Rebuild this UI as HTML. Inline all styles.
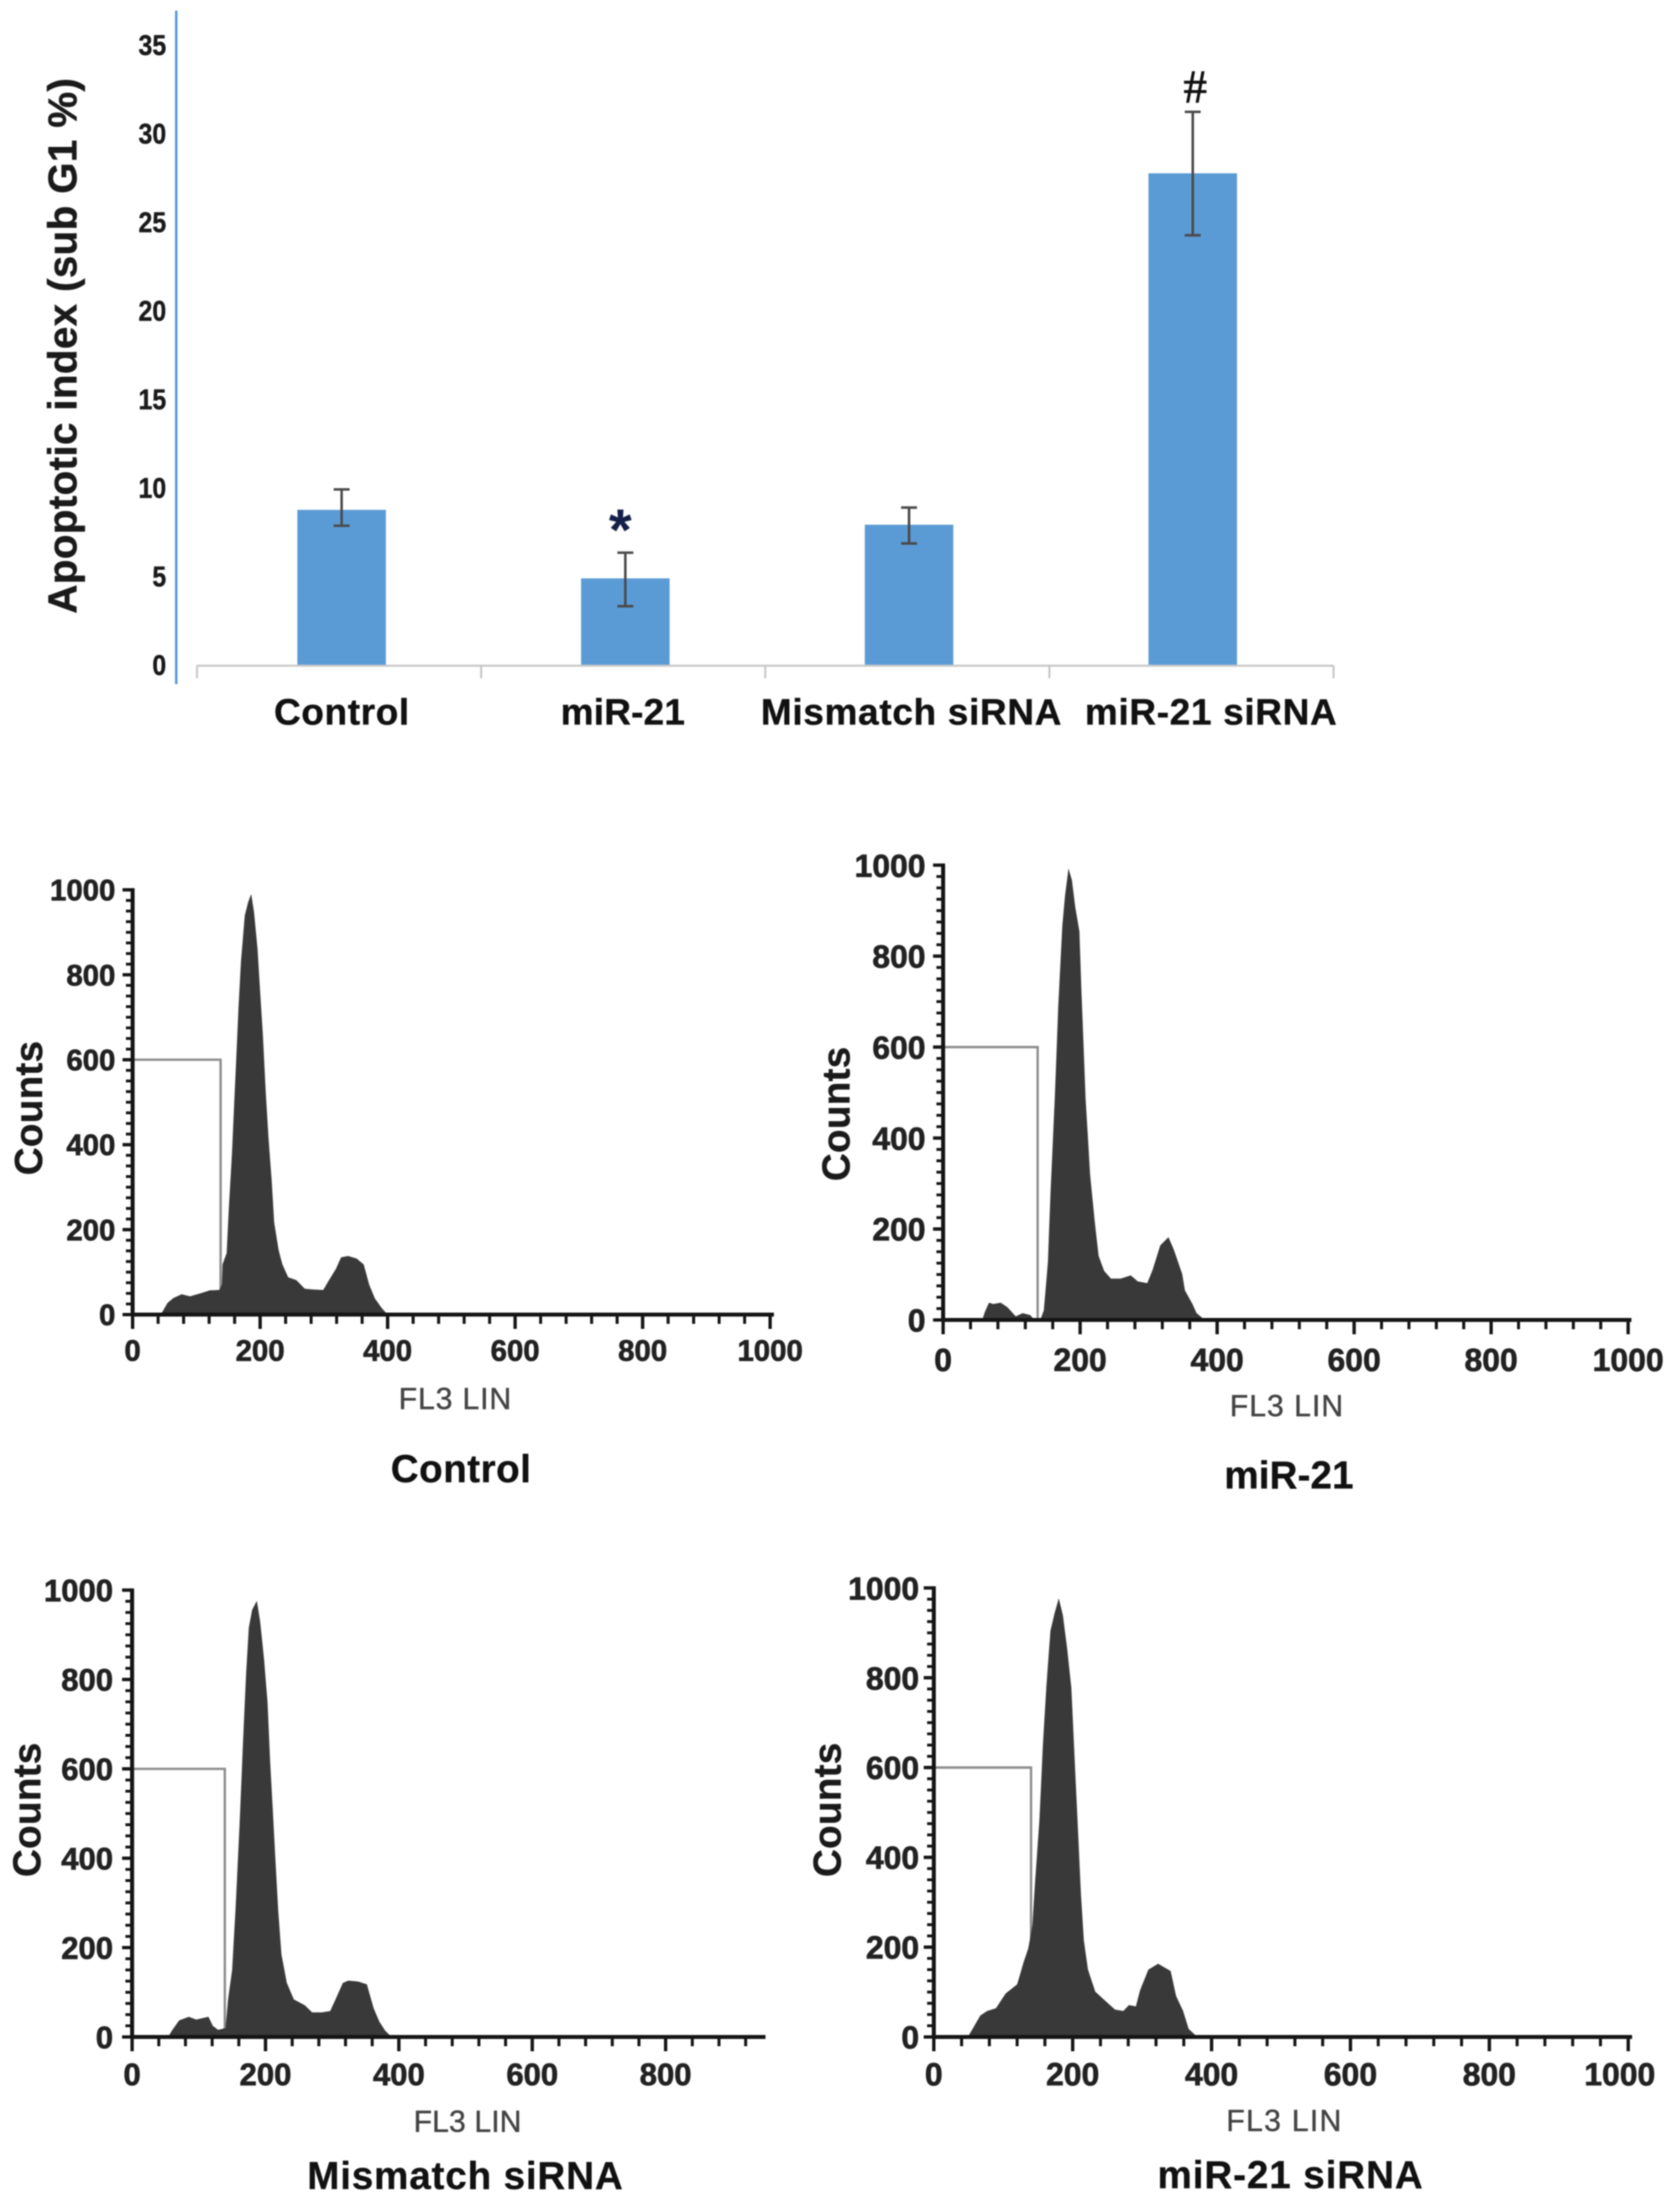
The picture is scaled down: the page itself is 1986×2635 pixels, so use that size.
<!DOCTYPE html>
<html lang="en">
<head>
<meta charset="utf-8">
<title>Apoptotic index and cell-cycle histograms</title>
<style>
html,body{margin:0;padding:0;background:#fff;}
#figure{display:block;width:1986px;height:2635px;filter:blur(.7px);font-family:"Liberation Sans",Arial,sans-serif;}
</style>
</head>
<body>
<svg id="figure" xmlns="http://www.w3.org/2000/svg" width="1986" height="2635" viewBox="0 0 1986 2635">
<rect x="0" y="0" width="1986" height="2635" fill="#ffffff"/>
</svg>
<script>
// ---- Bar chart data ----
const categories = ["Control", "miR-21", "Mismatch siRNA", "miR-21 siRNA"];
const barValues = [8.8, 4.93, 7.96, 27.8];
const errorHigh = [9.95, 6.38, 8.93, 31.27];
const errorLow = [7.9, 3.36, 6.9, 24.3];
const barTickLabels = [0, 5, 10, 15, 20, 25, 30, 35];
const barMarkers = ["", "*", "", "#"];

// ---- Histogram data (FL3 LIN channel, counts) ----
const xTickLabels = [0, 200, 400, 600, 800, 1000];
const countTickLabels = [0, 200, 400, 600, 800, 1000];
const gateCount = 600;

const controlChannels = [44,55,64,77,90,108,121,136,140,141,147.5,151,156,161,166,170,176,181,186,190.5,196,199,204.5,209,213,218,222,229,235,244,257,270,283.5,299,308,319,327,338,351.5,362.5,371,380,391,400];
const controlCounts = [0,28,39,48,43,51,57,58,71,118,145,252,385,552,719,833,940,970,990,947,860,786,653,519,419,319,218,152,118,88,81,61,59,58,81,108,135,138,132,118,71,38,15,0];
const controlGateChannel = 138;

const mir21Channels = [57,61,67,73,84,94,106,116,127,133,142,147,153,157,163,168,174,178,183,188,193,199,202,208,214.5,221,227,235,245,259,274,284,298,306,317,329,337,349,353,364,370,382];
const mir21Counts = [0,18,38,35,38,28,8,15,11,1,1,21,128,288,487,687,867,933,993,967,907,854,720,487,321,221,141,108,91,91,98,85,81,111,164,182,154,101,65,35,15,0];
const mir21GateChannel = 138;

const mismatchChannels = [54,60,70.5,85,96,114.5,121,129,140,144,150,155,161,166,171,175,180,187,192,198,203,207,213,219,224,232,242.5,259,270,284.5,297,305,316,324,339,352,362,370.5,379,389];
const mismatchCounts = [0,15,37,45,39,45,25,16,20,85,151,284,470,650,816,916,956,976,930,843,750,617,450,284,184,121,84,71,55,55,58,84,121,126,124,118,65,35,15,0];
const mismatchGateChannel = 139;

const sirnaChannels = [49,57,67,77,89.5,103.5,120,130,136,142,146,152,157,162,168,174,180,186,192,198,202,207,212,216,222,232.5,246.5,261,273,281,291,297,309,323,341,349,359,367,379.5];
const sirnaCounts = [0,21,48,58,64,97,117,170,197,249,349,481,647,779,905,944,977,938,865,779,647,481,316,216,150,101,81,61,58,71,68,104,150,163,147,91,58,18,0];
const sirnaGateChannel = 140;

// ---- Helpers ----
const NS = "http://www.w3.org/2000/svg";
const figure = document.getElementById("figure");
function shape(tag, attrs, parent) {
  const node = document.createElementNS(NS, tag);
  for (const key in attrs) node.setAttribute(key, attrs[key]);
  (parent || figure).appendChild(node);
  return node;
}
function label(content, attrs, parent) {
  const node = shape("text", attrs, parent);
  node.textContent = content;
  return node;
}

// ---- Bar chart ----
const barBaseY = 793;
const barUnit = 21.1;
const barY = v => barBaseY - barUnit * v;
const barX = i => 407 + 338 * i;
const bandEdge = i => 234.7 + 338.5 * i;
const barWidth = 105.5;

const barGroup = shape("g", {});



const blueAxis = shape("line", {x1:210, y1:12.6, x2:210, y2:815, stroke:"#5b9bd5", "stroke-width":3}, barGroup);



barTickLabels.forEach(v => {
  const t = label(String(v), {x:198, y:barY(v)+11, "text-anchor":"end", "font-size":34, "font-weight":"bold", fill:"#1a1a1a", stroke:"#1a1a1a", "stroke-width":0.5, textLength:String(v).length*16.5, lengthAdjust:"spacingAndGlyphs"}, barGroup);
  
  
});

const yTitle = label("Apoptotic index (sub G1 %)", {transform:"translate(91,412) rotate(-90)", "text-anchor":"middle", "font-size":48, "font-weight":"bold", fill:"#1a1a1a", stroke:"#1a1a1a", "stroke-width":0.6, textLength:638, lengthAdjust:"spacing"}, barGroup);



categories.forEach((name, i) => {
  const bar = shape("rect", {x:barX(i)-barWidth/2, y:barY(barValues[i]), width:barWidth, height:barUnit*barValues[i], fill:"#5b9bd5"}, barGroup);
  
  

  const stem = shape("line", {x1:barX(i), x2:barX(i), y1:barY(errorHigh[i]), y2:barY(errorLow[i]), stroke:"#4a4a4a", "stroke-width":3}, barGroup);
  
  

  const capTop = shape("line", {x1:barX(i)-9.5, x2:barX(i)+9.5, y1:barY(errorHigh[i]), y2:barY(errorHigh[i]), stroke:"#4a4a4a", "stroke-width":3}, barGroup);
  
  

  const capLow = shape("line", {x1:barX(i)-9.5, x2:barX(i)+9.5, y1:barY(errorLow[i]), y2:barY(errorLow[i]), stroke:"#4a4a4a", "stroke-width":3}, barGroup);
  
  
});

const xAxisLine = shape("line", {x1:bandEdge(0), x2:bandEdge(4), y1:barBaseY, y2:barBaseY, stroke:"#c8c8c8", "stroke-width":2.5}, barGroup);



[0,1,2,3,4].forEach(i => {
  const tick = shape("line", {x1:bandEdge(i), x2:bandEdge(i), y1:barBaseY, y2:barBaseY+15, stroke:"#c8c8c8", "stroke-width":2.5}, barGroup);
  
  
});

const categoryLayout = [{cx:407, w:161}, {cx:742, w:148}, {cx:1085.5, w:358}, {cx:1442.5, w:300}];
categories.forEach((name, i) => {
  const t = label(name, {x:categoryLayout[i].cx, y:863, "text-anchor":"middle", "font-size":44, "font-weight":"bold", fill:"#111", stroke:"#111", "stroke-width":0.5, textLength:categoryLayout[i].w, lengthAdjust:"spacing"}, barGroup);
  
  
});

const star = label(barMarkers[1], {x:739, y:655, "text-anchor":"middle", "font-size":70, "font-weight":"bold", fill:"#15204a"}, barGroup);



const hash = label(barMarkers[3], {x:1424, y:122, "text-anchor":"middle", "font-size":56, fill:"#111", stroke:"#111", "stroke-width":0.8, style:'font-family:"Liberation Serif",serif'}, barGroup);



// ---- Histogram panels ----
function drawHistogram(name, channels, counts, gateChannel, layout) {
  const x = c => layout.left + (layout.right - layout.left) * c / 1000;
  const y = c => layout.y0 - (layout.y0 - layout.y1000) * c / 1000;

  const panel = shape("g", {});
  
  

  const gate = shape("polyline", {points:`${x(0)},${y(gateCount)} ${x(gateChannel)},${y(gateCount)} ${x(gateChannel)},${y(0)}`, fill:"none", stroke:"#8c8c8c", "stroke-width":2.8}, panel);
  
  

  const pts = channels.map((c, i) => `${x(c)},${y(counts[i])}`);
  const area = shape("polygon", {points:`${x(channels[0])},${y(0)} ${pts.join(" ")} ${x(channels[channels.length-1])},${y(0)}`, fill:"#393939"}, panel);
  
  

  const yAxis = shape("line", {x1:x(0), x2:x(0), y1:y(1000)-2, y2:y(0)+2, stroke:"#151515", "stroke-width":4.8}, panel);
  
  

  const xAxis = shape("line", {x1:x(0), x2:layout.axisEnd, y1:y(0), y2:y(0), stroke:"#151515", "stroke-width":4.8}, panel);
  
  

  for (let c = 0; c <= 1000; c += 25) {
    const major = c % 200 === 0;
    const yTick = shape("line", {x1:x(0)-(major?12:8), x2:x(0), y1:y(c), y2:y(c), stroke:"#151515", "stroke-width":major?4:3.4}, panel);
    
    
  }
  for (let c = 0; c <= 1000; c += 40) {
    const major = c % 200 === 0;
    if (x(c) <= layout.axisEnd) {
      const xTick = shape("line", {x1:x(c), x2:x(c), y1:y(0), y2:y(0)+(major?17:11), stroke:"#151515", "stroke-width":major?4:3.6}, panel);
      
      
    }
  }

  xTickLabels.forEach(v => {
    if (x(v) > layout.axisEnd) return;
    const shift = v === 1000 ? (layout.lastLabelShift || 0) : 0;
    const t = label(String(v), {x:x(v)+shift, y:layout.xLabelBase, "text-anchor":"middle", "font-size":layout.tickFont, "font-weight":"bold", fill:"#222", stroke:"#222", "stroke-width":0.8}, panel);
    
    
  });

  countTickLabels.forEach(v => {
    const t = label(String(v), {x:layout.yLabelRight, y:y(v)+layout.tickFont*0.36, "text-anchor":"end", "font-size":layout.tickFont, "font-weight":"bold", fill:"#222", stroke:"#222", "stroke-width":0.8}, panel);
    
    
  });

  const countsTitle = label("Counts", {transform:`translate(${layout.countsBase},${layout.countsMid}) rotate(-90)`, "text-anchor":"middle", "font-size":46, "font-weight":"bold", fill:"#1a1a1a", stroke:"#1a1a1a", "stroke-width":0.5, textLength:160, lengthAdjust:"spacing"}, panel);
  
  

  const flTitle = label("FL3 LIN", {x:layout.flX, y:layout.flBase, "text-anchor":"middle", "font-size":36, fill:"#444", stroke:"#444", "stroke-width":0.5, textLength:layout.flWidth, lengthAdjust:"spacing"}, panel);
  
  

  const caption = label(layout.caption, {x:layout.capX, y:layout.capBase, "text-anchor":"middle", "font-size":46, "font-weight":"bold", fill:"#111", stroke:"#111", "stroke-width":0.4, textLength:layout.capWidth, lengthAdjust:"spacing"}, panel);
  
  
}

drawHistogram("control", controlChannels, controlCounts, controlGateChannel, {
  left:158, right:917.5, axisEnd:922, y0:1566, y1000:1060, tickFont:35, xLabelBase:1621, yLabelRight:137.5,
  countsBase:50, countsMid:1320, flX:542, flBase:1678.6, flWidth:134,
  caption:"Control", capX:549, capBase:1765.5, capWidth:167
});
drawHistogram("mir-21", mir21Channels, mir21Counts, mir21GateChannel, {
  left:1123.6, right:1939.7, axisEnd:1943.6, y0:1572.4, y1000:1030.6, tickFont:38, xLabelBase:1633, yLabelRight:1102.7,
  countsBase:1012, countsMid:1327, flX:1532.6, flBase:1687, flWidth:135,
  caption:"miR-21", capX:1535.6, capBase:1773, capWidth:154
});
drawHistogram("mismatch-sirna", mismatchChannels, mismatchCounts, mismatchGateChannel, {
  left:157.4, right:951.9, axisEnd:912, y0:2426.5, y1000:1894.2, tickFont:37, xLabelBase:2484, yLabelRight:134.7,
  countsBase:48, countsMid:2156, flX:557, flBase:2539.4, flWidth:128.6,
  caption:"Mismatch siRNA", capX:554, capBase:2607.7, capWidth:376
});
drawHistogram("mir-21-sirna", sirnaChannels, sirnaCounts, sirnaGateChannel, {
  left:1112.5, right:1939.8, axisEnd:1944.4, y0:2426.5, y1000:1891.6, tickFont:38, xLabelBase:2484, yLabelRight:1095, lastLabelShift:-10,
  countsBase:1001.5, countsMid:2156, flX:1529.5, flBase:2538.4, flWidth:137,
  caption:"miR-21 siRNA", capX:1537, capBase:2606.5, capWidth:316
});
</script>
</body>
</html>
